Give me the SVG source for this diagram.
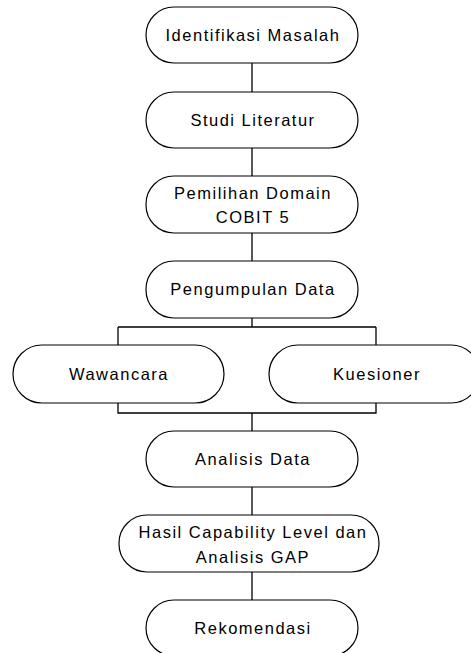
<svg xmlns="http://www.w3.org/2000/svg" width="471" height="653" viewBox="0 0 471 653">
<style>
.n{fill:#fff;stroke:#000;stroke-width:1.2}
.c{fill:none;stroke:#000;stroke-width:1.3}
text{font-family:"Liberation Sans",Arial,sans-serif;font-size:16.5px;fill:#000;text-anchor:middle;letter-spacing:1.5px}
</style>
<rect width="471" height="653" fill="#fff"/>
<g id="connectors">
<path class="c" d="M252 63V92M252 148V176M252 233V261M252 318V327M118 327H376M118 327V345M376 327V345M118 403V413H376V403M252 413V431M252 487V515M252 572V600"/>
</g>
<g id="n1"><rect class="n" x="146" y="7" width="212" height="56" rx="28"/><text x="253" y="41">Identifikasi Masalah</text></g>
<g id="n2"><rect class="n" x="146" y="92" width="212" height="56" rx="28"/><text x="253" y="126">Studi Literatur</text></g>
<g id="n3"><rect class="n" x="146" y="176" width="212" height="57" rx="28"/><text x="253" y="199">Pemilihan Domain</text><text x="253" y="223">COBIT 5</text></g>
<g id="n4"><rect class="n" x="146" y="261" width="212" height="57" rx="28"/><text x="253" y="295">Pengumpulan Data</text></g>
<g id="n5"><rect class="n" x="13" y="345" width="211" height="58" rx="29"/><text x="119" y="380">Wawancara</text></g>
<g id="n6"><rect class="n" x="269" y="345" width="211" height="58" rx="29"/><text x="377" y="380">Kuesioner</text></g>
<g id="n7"><rect class="n" x="146" y="431" width="212" height="56" rx="28"/><text x="253" y="465">Analisis Data</text></g>
<g id="n8"><rect class="n" x="119" y="515" width="260" height="57" rx="28"/><text x="253" y="538">Hasil Capability Level dan</text><text x="253" y="563">Analisis GAP</text></g>
<g id="n9"><rect class="n" x="146" y="600" width="212" height="56" rx="28"/><text x="253" y="634">Rekomendasi</text></g>
</svg>
